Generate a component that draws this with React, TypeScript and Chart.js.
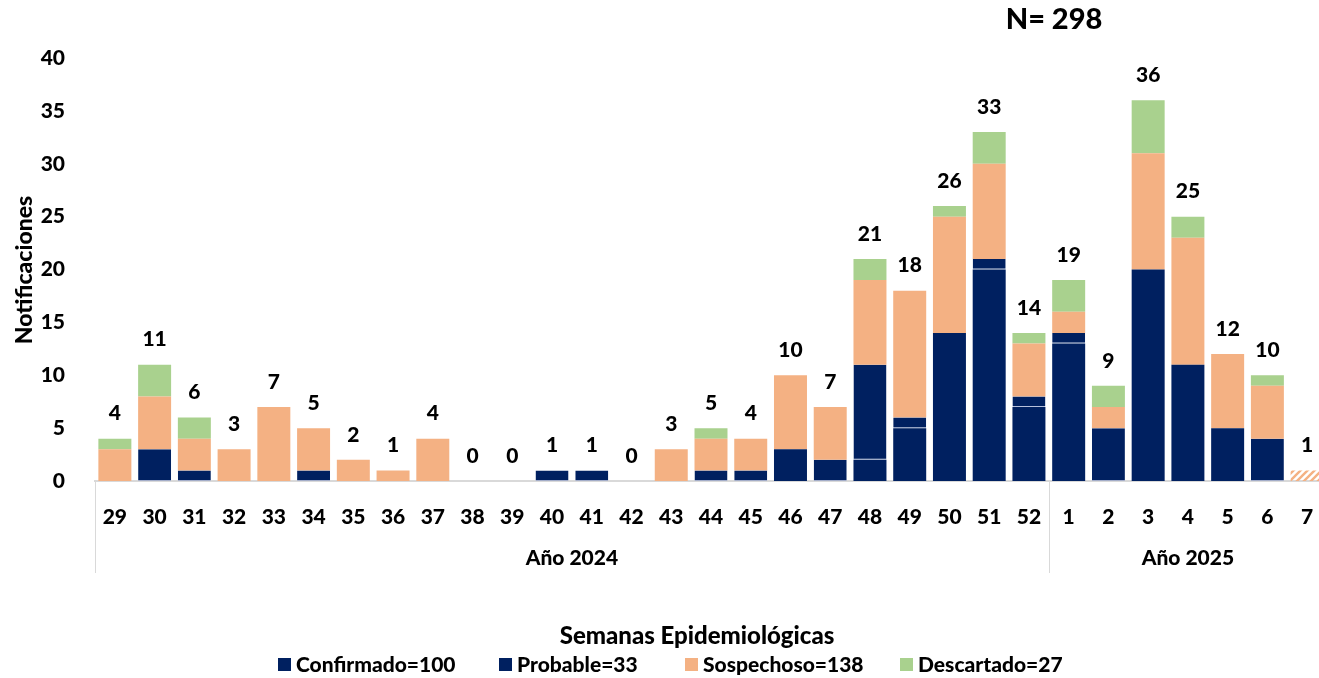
import { useEffect, useRef } from 'react';
import { Chart, registerables } from 'chart.js';

Chart.register(...registerables);

const weeks = ['29', '30', '31', '32', '33', '34', '35', '36', '37', '38', '39', '40', '41', '42', '43', '44', '45', '46', '47', '48', '49', '50', '51', '52', '1', '2', '3', '4', '5', '6', '7'];
const confirmado = [0, 0, 0, 0, 0, 0, 0, 0, 0, 0, 0, 0, 0, 0, 0, 0, 0, 3, 0, 2, 5, 14, 20, 7, 13, 0, 20, 11, 5, 0, 0];
const probable = [0, 3, 1, 0, 0, 1, 0, 0, 0, 0, 0, 1, 1, 0, 0, 1, 1, 0, 2, 9, 1, 0, 1, 1, 1, 5, 0, 0, 0, 4, 0];
const sospechoso = [3, 5, 3, 3, 7, 4, 2, 1, 4, 0, 0, 0, 0, 0, 3, 3, 3, 7, 5, 8, 12, 11, 9, 5, 2, 2, 11, 12, 7, 5, 1];
const descartado = [1, 3, 2, 0, 0, 0, 0, 0, 0, 0, 0, 0, 0, 0, 0, 1, 0, 0, 0, 2, 0, 1, 3, 1, 3, 2, 5, 2, 0, 1, 0];
const hatchedIndex = [30];
const groups = [
  { label: 'Año 2024', from: 0, to: 23 },
  { label: 'Año 2025', from: 24, to: 30 },
];
const legendItems = [
  { label: 'Confirmado=100', color: '#002060' },
  { label: 'Probable=33', color: '#002060' },
  { label: 'Sospechoso=138', color: '#F4B183' },
  { label: 'Descartado=27', color: '#A9D18E' },
];
const totalLabel = 'N= 298';

const FONT = 'Lato, "Open Sans", sans-serif';
const W = '900';
const NAVY = '#002060';
const PEACH = '#F4B183';
const GREEN = '#A9D18E';

export default function App() {
  const ref = useRef<HTMLCanvasElement>(null);

  useEffect(() => {
    const canvas = ref.current;
    if (!canvas) return;

    const pc = document.createElement('canvas');
    pc.width = 7;
    pc.height = 7;
    const pctx = pc.getContext('2d')!;
    pctx.strokeStyle = PEACH;
    pctx.lineWidth = 2.4;
    pctx.beginPath();
    pctx.moveTo(0, 7); pctx.lineTo(7, 0);
    pctx.moveTo(-1, 1); pctx.lineTo(1, -1);
    pctx.moveTo(6, 8); pctx.lineTo(8, 6);
    pctx.stroke();
    const pattern = canvas.getContext('2d')!.createPattern(pc, 'repeat')!;

    const nz = (a: number[]) => a.map((v) => (v === 0 ? null : v));
    const totals = weeks.map((_, i) => confirmado[i] + probable[i] + sospechoso[i] + descartado[i]);

    const decor = {
      id: 'decor',
      afterDatasetsDraw(chart: any) {
        const { ctx, chartArea, scales } = chart;
        const x = scales.x;
        const y = scales.y;
        const step = x.getPixelForValue(1) - x.getPixelForValue(0);
        ctx.save();
        ctx.fillStyle = '#000';
        ctx.textAlign = 'center';
        ctx.textBaseline = 'middle';
        ctx.font = `${W} 21px ${FONT}`;
        totals.forEach((t, i) => {
          ctx.fillText(String(t), x.getPixelForValue(i), y.getPixelForValue(t) - 25);
        });
        ctx.strokeStyle = '#d9d9d9';
        ctx.lineWidth = 1;
        const sepXs = [chartArea.left, ...groups.slice(1).map((g) => x.getPixelForValue(g.from) - step / 2)];
        sepXs.forEach((sx) => {
          ctx.beginPath();
          ctx.moveTo(Math.round(sx) + 0.5, chartArea.bottom);
          ctx.lineTo(Math.round(sx) + 0.5, chartArea.bottom + 92);
          ctx.stroke();
        });
        ctx.font = `${W} 21px ${FONT}`;
        groups.forEach((g) => {
          const cx = (x.getPixelForValue(g.from) + x.getPixelForValue(g.to)) / 2;
          ctx.fillText(g.label, cx, 558);
        });
        ctx.font = `${W} 24px ${FONT}`;
        ctx.fillText('Semanas Epidemiológicas', 697, 636);
        ctx.save();
        ctx.translate(25, 270);
        ctx.rotate(-Math.PI / 2);
        ctx.font = `${W} 23px ${FONT}`;
        ctx.fillText('Notificaciones', 0, 0);
        ctx.restore();
        ctx.font = `${W} 29px ${FONT}`;
        ctx.fillText(totalLabel, 1054, 20);
        const legendX = [278, 499, 685, 900];
        ctx.font = `${W} 21px ${FONT}`;
        ctx.textAlign = 'left';
        legendItems.forEach((it, i) => {
          ctx.fillStyle = it.color;
          ctx.fillRect(legendX[i], 658, 13, 13);
          ctx.fillStyle = '#000';
          ctx.fillText(it.label, legendX[i] + 18, 665);
        });
        ctx.restore();
      },
    };

    const chart = new Chart(canvas, {
      type: 'bar',
      data: {
        labels: weeks,
        datasets: [
          { label: 'Confirmado', data: nz(confirmado), backgroundColor: NAVY, borderWidth: 0 },
          {
            label: 'Probable',
            data: nz(probable),
            backgroundColor: NAVY,
            borderColor: 'rgba(110,130,185,0.5)',
            borderWidth: { top: 0, left: 0, right: 0, bottom: 1 },
            borderSkipped: false,
          },
          {
            label: 'Sospechoso',
            data: nz(sospechoso),
            backgroundColor: weeks.map((_, i) => (hatchedIndex.includes(i) ? pattern : PEACH)) as any,
            borderWidth: 0,
          },
          { label: 'Descartado', data: nz(descartado), backgroundColor: GREEN, borderWidth: 0 },
        ],
      },
      options: {
        responsive: false,
        animation: false,
        layout: { padding: { top: 58, left: 0, right: 8, bottom: 0 } },
        datasets: { bar: { categoryPercentage: 1, barPercentage: 0.83 } },
        plugins: { legend: { display: false }, tooltip: { enabled: false }, title: { display: false } },
        scales: {
          x: {
            stacked: true,
            grid: { display: false },
            border: { display: true, color: '#d9d9d9', width: 2 },
            ticks: {
              autoSkip: false,
              maxRotation: 0,
              padding: 16,
              color: '#000',
              font: { family: FONT, size: 21, weight: W as any },
            },
            afterFit: (s: any) => { s.height = 197; },
          },
          y: {
            stacked: true,
            min: 0,
            max: 40,
            grid: { display: false },
            border: { display: false },
            ticks: {
              stepSize: 5,
              padding: 22,
              color: '#000',
              font: { family: FONT, size: 21, weight: W as any },
            },
            afterFit: (s: any) => { s.width = 95; },
          },
        },
      },
      plugins: [decor],
    });
    return () => chart.destroy();
  }, []);

  return (
    <div style={{ position: 'fixed', left: 0, top: 0, width: 1319, height: 678, overflow: 'hidden', background: '#fff' }}>
      <canvas ref={ref} width={1335} height={678} style={{ width: 1335, height: 678, display: 'block' }} />
    </div>
  );
}
